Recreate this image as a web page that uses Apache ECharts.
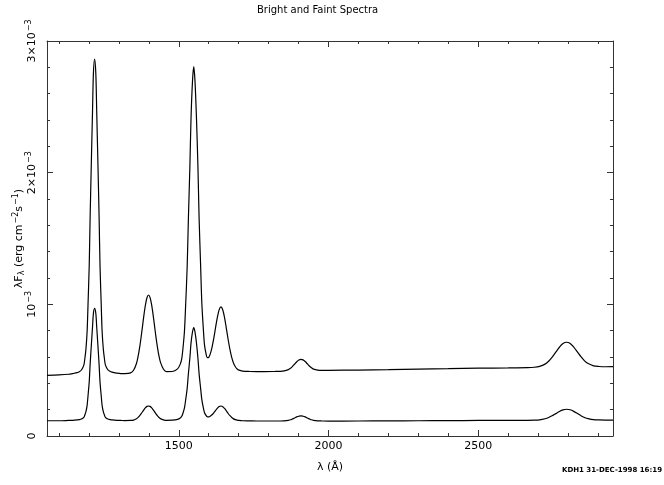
<!DOCTYPE html>
<html>
<head>
<meta charset="utf-8">
<script src="https://cdn.jsdelivr.net/npm/echarts@6/dist/echarts.min.js"></script>
<style>
html,body{margin:0;padding:0;background:#fff;}
#chart{width:664px;height:485px;}
</style>
</head>
<body>
<div id="chart"></div>
<script>
// Wavelength samples (Angstrom)
const wavelengths = [
  1060,1100,1132,1146,1161,1168,1175,1183,1186,1190,
  1194,1197,1201,1204,1208,1212,1215,1219,1223,1226,
  1230,1234,1237,1241,1244,1248,1252,1255,1263,1270,
  1277,1292,1306,1320,1339,1349,1359,1364,1369,1374,
  1379,1384,1389,1394,1399,1404,1409,1414,1419,1424,
  1429,1434,1439,1449,1459,1478,1496,1505,1510,1514,
  1519,1523,1528,1532,1537,1541,1546,1550,1554,1559,
  1564,1568,1573,1577,1582,1586,1591,1595,1600,1605,
  1611,1617,1623,1629,1635,1641,1647,1653,1659,1665,
  1671,1677,1683,1689,1695,1701,1713,1737,1761,1785,
  1820,1838,1852,1866,1873,1880,1887,1894,1901,1908,
  1915,1922,1929,1936,1943,1950,1964,1978,2000,2100,
  2200,2300,2400,2500,2600,2665,2687,2705,2723,2735,
  2747,2759,2771,2783,2795,2807,2819,2831,2843,2855,
  2867,2885,2903,2925,2950];
// lambda F_lambda, in units of 1e-3 erg cm^-2 s^-1
const brightSpectrum = [
  0.460,0.464,0.469,0.474,0.481,0.488,0.501,0.538,0.581,0.660,
  0.795,1.001,1.295,1.661,2.072,2.466,2.754,2.862,2.754,2.466,
  2.072,1.662,1.296,1.002,0.797,0.662,0.583,0.540,0.503,0.491,
  0.485,0.478,0.474,0.474,0.479,0.499,0.553,0.602,0.667,0.746,
  0.835,0.924,1.000,1.052,1.071,1.053,1.001,0.926,0.838,0.749,
  0.671,0.606,0.559,0.507,0.489,0.490,0.510,0.546,0.588,0.665,
  0.795,0.995,1.281,1.639,2.038,2.420,2.701,2.805,2.703,2.423,
  2.044,1.646,1.292,1.010,0.814,0.690,0.626,0.595,0.598,0.622,
  0.674,0.744,0.825,0.903,0.960,0.980,0.957,0.898,0.816,0.731,
  0.656,0.595,0.553,0.526,0.509,0.500,0.493,0.490,0.489,0.489,
  0.490,0.491,0.494,0.504,0.514,0.529,0.547,0.564,0.577,0.582,
  0.578,0.566,0.549,0.532,0.518,0.508,0.500,0.498,0.499,0.501,
  0.504,0.508,0.511,0.515,0.517,0.519,0.522,0.529,0.546,0.568,
  0.599,0.637,0.674,0.702,0.712,0.703,0.675,0.639,0.602,0.571,
  0.550,0.533,0.528,0.526,0.527];
const faintSpectrum = [
  0.116,0.116,0.118,0.119,0.122,0.124,0.129,0.142,0.157,0.185,
  0.233,0.306,0.411,0.542,0.688,0.828,0.931,0.969,0.931,0.828,
  0.688,0.542,0.411,0.306,0.233,0.185,0.157,0.142,0.129,0.124,
  0.122,0.119,0.118,0.117,0.118,0.121,0.131,0.141,0.153,0.168,
  0.184,0.201,0.215,0.225,0.228,0.225,0.215,0.201,0.185,0.168,
  0.153,0.141,0.132,0.123,0.119,0.120,0.126,0.137,0.150,0.173,
  0.213,0.274,0.360,0.469,0.590,0.707,0.792,0.824,0.793,0.708,
  0.591,0.470,0.362,0.276,0.216,0.177,0.157,0.147,0.145,0.150,
  0.161,0.176,0.194,0.211,0.224,0.228,0.223,0.209,0.191,0.171,
  0.154,0.140,0.130,0.124,0.120,0.118,0.116,0.115,0.114,0.114,
  0.114,0.114,0.115,0.119,0.123,0.130,0.137,0.145,0.150,0.153,
  0.150,0.145,0.137,0.130,0.123,0.119,0.115,0.114,0.113,0.114,
  0.115,0.116,0.117,0.118,0.119,0.119,0.120,0.123,0.131,0.140,
  0.154,0.170,0.186,0.198,0.203,0.199,0.187,0.171,0.154,0.141,
  0.132,0.124,0.122,0.121,0.121];

// Axis ticks and labels
const xMajorTicks = [1500, 2000, 2500];
const xMinorTicks = [1100,1200,1300,1400,1600,1700,1800,1900,2100,2200,2300,2400,2600,2700,2800,2900];
const yMajorTicks = [0, 1, 2, 3];
const yMinorTicks = [0.2,0.4,0.6,0.8,1.2,1.4,1.6,1.8,2.2,2.4,2.6,2.8];
const yTickLabels = ['{n|0}', '{n|10}{p|\u22123}', '{n|2\u00D710}{p|\u22123}', '{n|3\u00D710}{p|\u22123}'];

const FONT = 'DejaVu Sans';
const frameColor = '#333';
const richText = {
  n: {fontSize: 11, fontFamily: FONT, color: '#000', lineHeight: 14},
  p: {fontSize: 8, fontFamily: FONT, color: '#000', lineHeight: 8, verticalAlign: 'top', padding: [0, 0, 0, 1]},
  s: {fontSize: 8, fontFamily: FONT, color: '#000', lineHeight: 8, verticalAlign: 'bottom'}
};

function xAxisDef(pos, ticks, len, withLabels, withLine) {
  return {
    type: 'value', position: pos, min: 1060, max: 2950,
    axisLine: {show: withLine, onZero: false, lineStyle: {color: frameColor, width: 1}},
    axisTick: {show: true, inside: true, length: len, customValues: ticks, lineStyle: {color: frameColor, width: 1}},
    axisLabel: withLabels ? {show: true, customValues: xMajorTicks, margin: 5, color: '#000', fontSize: 11, fontFamily: FONT,
      formatter: function (v) { return String(Math.round(v)); }} : {show: false},
    splitLine: {show: false},
    name: withLabels ? '\u03BB (\u00C5)' : '',
    nameLocation: 'middle', nameGap: 26, nameMoveOverlap: false,
    nameTextStyle: {color: '#000', fontSize: 11, fontFamily: FONT}
  };
}
function yAxisDef(pos, ticks, len, withLabels, withLine) {
  return {
    type: 'value', position: pos, min: 0, max: 3,
    axisLine: {show: withLine, onZero: false, lineStyle: {color: frameColor, width: 1}},
    axisTick: {show: true, inside: true, length: len, customValues: ticks, lineStyle: {color: frameColor, width: 1}},
    axisLabel: withLabels ? {
      show: true, customValues: yMajorTicks, rotate: 90, margin: 8, color: '#000', fontSize: 11, fontFamily: FONT,
      rich: richText,
      formatter: function (v) { return yTickLabels[Math.round(v)]; }
    } : {show: false},
    splitLine: {show: false},
    name: withLabels ? '{n|\u03BBF}{s|\u03BB}{n| (erg cm}{p|\u22122}{n|s}{p|\u22121}{n|)}' : '',
    nameLocation: 'middle', nameRotate: 90, nameGap: 21, nameMoveOverlap: false,
    nameTextStyle: {color: '#000', fontSize: 11, fontFamily: FONT, rich: richText}
  };
}

const chart = echarts.init(document.getElementById('chart'), null, {renderer: 'canvas'});
chart.setOption({
  animation: false,
  backgroundColor: '#fff',
  title: [
    {text: 'Bright and Faint Spectra', left: 257, top: 5, padding: 0,
     textStyle: {fontSize: 10, fontWeight: 'normal', color: '#000', fontFamily: FONT}},
    {text: 'KDH1 31-DEC-1998 16:19', right: 2, top: 467, padding: 0,
     textStyle: {fontSize: 7, fontWeight: 'bold', color: '#000', fontFamily: FONT}}
  ],
  grid: {left: 47, top: 41, width: 566, height: 395, containLabel: false, outerBoundsMode: 'none'},
  xAxis: [
    xAxisDef('bottom', xMajorTicks, 6, true, true),
    xAxisDef('bottom', xMinorTicks, 3, false, false),
    xAxisDef('top', xMajorTicks, 6, false, true),
    xAxisDef('top', xMinorTicks, 3, false, false)
  ],
  yAxis: [
    yAxisDef('left', yMajorTicks, 6, true, true),
    yAxisDef('left', yMinorTicks, 3, false, false),
    yAxisDef('right', yMajorTicks, 6, false, true),
    yAxisDef('right', yMinorTicks, 3, false, false)
  ],
  series: [
    {name: 'Bright', type: 'line', showSymbol: false, smooth: 0.3, xAxisIndex: 0, yAxisIndex: 0,
     lineStyle: {color: '#000', width: 1.2},
     data: wavelengths.map((w, i) => [w, brightSpectrum[i]])},
    {name: 'Faint', type: 'line', showSymbol: false, smooth: 0.3, xAxisIndex: 0, yAxisIndex: 0,
     lineStyle: {color: '#000', width: 1.2},
     data: wavelengths.map((w, i) => [w, faintSpectrum[i]])}
  ]
});
</script>
</body>
</html>
